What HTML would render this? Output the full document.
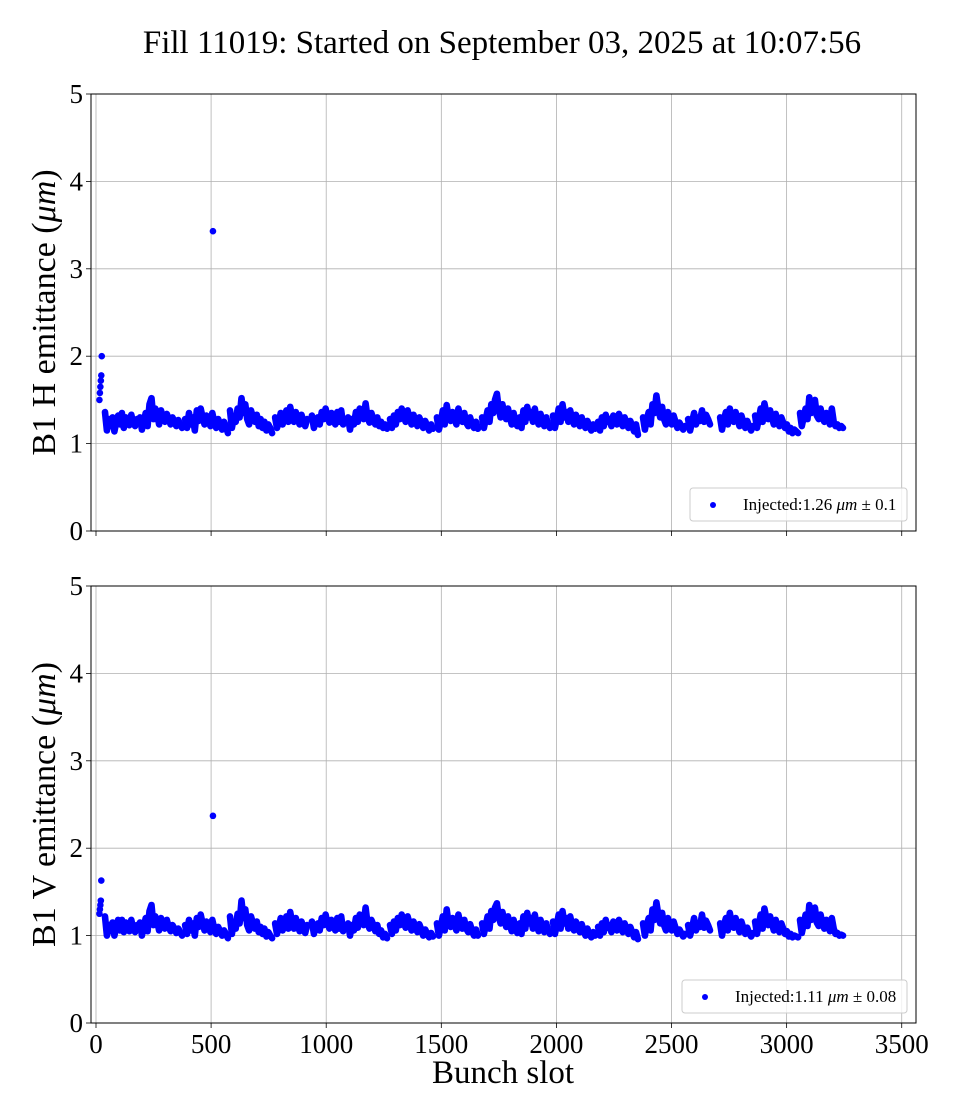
<!DOCTYPE html>
<html><head><meta charset="utf-8"><style>
body{margin:0;background:#fff}
svg{display:block;font-family:"Liberation Serif","DejaVu Serif",serif}
</style></head><body>
<svg id="chart" width="960" height="1120" viewBox="0 0 960 1120" xmlns="http://www.w3.org/2000/svg">
<text x="502" y="53" font-size="33" text-anchor="middle">Fill 11019: Started on September 03, 2025 at 10:07:56</text>
<g id="p1"></g><g id="p2"></g>
<text x="503" y="1083" font-size="33" text-anchor="middle">Bunch slot</text>
</svg>
<script>
const xTicks = [0,500,1000,1500,2000,2500,3000,3500];
const yTicks = [0,1,2,3,4,5];
const trainStart = [39,191,387,582,778,938,1095,1277,1481,1677,1840,1985,2181,2376,2572,2711,2863,3058];
const trainEnd   = [178,374,573,765,917,1082,1264,1464,1659,1830,1972,2168,2354,2559,2667,2854,3050,3245];
const hTrains = [
 [1.36,1.15,1.28,1.20,1.30,1.14,1.25,1.32,1.22,1.35,1.18,1.30,1.26,1.21,1.33,1.24,1.20,1.28],
 [1.30,1.16,1.25,1.35,1.20,1.45,1.52,1.28,1.40,1.33,1.22,1.38,1.30,1.25,1.34,1.28,1.22,1.30,1.25,1.20,1.27,1.22,1.18],
 [1.28,1.18,1.35,1.22,1.30,1.15,1.38,1.26,1.40,1.30,1.22,1.32,1.28,1.20,1.35,1.25,1.18,1.28,1.22,1.16,1.25,1.20,1.12],
 [1.38,1.18,1.30,1.25,1.40,1.30,1.52,1.35,1.45,1.28,1.22,1.38,1.30,1.25,1.33,1.20,1.28,1.18,1.25,1.15,1.22,1.18,1.12],
 [1.30,1.18,1.25,1.35,1.22,1.30,1.38,1.25,1.42,1.32,1.25,1.36,1.28,1.22,1.33,1.26,1.20,1.28],
 [1.32,1.18,1.25,1.30,1.22,1.36,1.28,1.40,1.30,1.24,1.35,1.28,1.22,1.36,1.25,1.38,1.22,1.28],
 [1.30,1.16,1.28,1.22,1.36,1.25,1.40,1.32,1.28,1.46,1.30,1.24,1.35,1.28,1.22,1.30,1.20,1.25,1.18,1.22,1.17],
 [1.28,1.18,1.32,1.22,1.36,1.28,1.40,1.32,1.25,1.38,1.30,1.22,1.33,1.26,1.20,1.30,1.24,1.18,1.26,1.20,1.15,1.22,1.17],
 [1.30,1.16,1.25,1.38,1.22,1.44,1.30,1.26,1.36,1.28,1.22,1.40,1.30,1.25,1.35,1.24,1.20,1.30,1.22,1.18,1.25,1.17],
 [1.30,1.18,1.28,1.38,1.25,1.45,1.35,1.50,1.57,1.40,1.30,1.45,1.35,1.28,1.40,1.30,1.22,1.35,1.25,1.20],
 [1.30,1.18,1.38,1.25,1.42,1.30,1.36,1.25,1.40,1.28,1.22,1.34,1.26,1.20,1.30,1.22,1.18],
 [1.32,1.18,1.28,1.40,1.25,1.45,1.30,1.36,1.25,1.38,1.28,1.22,1.33,1.26,1.20,1.30,1.22,1.18,1.26,1.20,1.15,1.22,1.17],
 [1.25,1.15,1.30,1.20,1.33,1.25,1.28,1.20,1.32,1.26,1.22,1.34,1.28,1.20,1.30,1.24,1.18,1.26,1.20,1.14,1.22,1.10],
 [1.30,1.16,1.28,1.36,1.22,1.45,1.35,1.55,1.40,1.30,1.42,1.28,1.22,1.36,1.28,1.22,1.32,1.25,1.18,1.24,1.20,1.16,1.20],
 [1.28,1.15,1.25,1.35,1.22,1.30,1.26,1.38,1.25,1.33,1.28,1.22],
 [1.30,1.16,1.28,1.36,1.22,1.40,1.30,1.25,1.36,1.28,1.20,1.32,1.25,1.18,1.26,1.20,1.15,1.20],
 [1.32,1.18,1.28,1.40,1.25,1.46,1.35,1.28,1.38,1.30,1.22,1.34,1.26,1.20,1.30,1.24,1.18,1.22,1.14,1.18,1.12,1.16,1.14,1.12],
 [1.35,1.20,1.30,1.40,1.28,1.53,1.35,1.45,1.50,1.32,1.28,1.40,1.30,1.25,1.35,1.28,1.22,1.40,1.25,1.20,1.22,1.18,1.20,1.18]
];
const vTrains = [
 [1.22,1.00,1.12,1.05,1.15,1.00,1.10,1.18,1.06,1.18,1.04,1.15,1.10,1.05,1.18,1.08,1.04,1.12],
 [1.15,1.00,1.10,1.20,1.05,1.28,1.35,1.12,1.22,1.16,1.06,1.20,1.14,1.08,1.18,1.10,1.05,1.12,1.08,1.03,1.08,1.04,1.00],
 [1.12,1.02,1.18,1.06,1.14,1.00,1.20,1.10,1.24,1.14,1.06,1.16,1.12,1.04,1.18,1.08,1.02,1.10,1.05,1.00,1.06,1.02,0.97],
 [1.22,1.02,1.15,1.08,1.25,1.14,1.40,1.20,1.30,1.12,1.06,1.22,1.14,1.08,1.16,1.04,1.10,1.02,1.08,0.99,1.04,1.00,0.97],
 [1.14,1.02,1.10,1.20,1.06,1.14,1.22,1.08,1.27,1.16,1.08,1.20,1.12,1.05,1.16,1.10,1.03,1.12],
 [1.16,1.02,1.10,1.14,1.06,1.20,1.12,1.24,1.14,1.08,1.18,1.12,1.06,1.20,1.08,1.22,1.05,1.12],
 [1.14,1.00,1.12,1.06,1.20,1.09,1.24,1.16,1.12,1.32,1.14,1.08,1.18,1.12,1.05,1.12,1.02,1.06,0.98,1.02,0.97],
 [1.12,1.02,1.16,1.06,1.20,1.12,1.24,1.16,1.09,1.22,1.14,1.06,1.16,1.10,1.04,1.13,1.07,1.00,1.07,1.02,0.98,1.03,0.99],
 [1.14,1.00,1.10,1.22,1.06,1.30,1.14,1.10,1.20,1.12,1.06,1.24,1.14,1.08,1.18,1.08,1.04,1.13,1.05,1.00,1.07,1.00],
 [1.14,1.02,1.12,1.22,1.08,1.28,1.18,1.32,1.37,1.22,1.14,1.27,1.18,1.10,1.22,1.12,1.05,1.18,1.08,1.03],
 [1.14,1.02,1.22,1.08,1.26,1.14,1.20,1.08,1.24,1.12,1.05,1.18,1.10,1.04,1.14,1.06,1.02],
 [1.16,1.02,1.12,1.24,1.08,1.28,1.14,1.20,1.08,1.22,1.12,1.06,1.16,1.10,1.04,1.13,1.06,1.00,1.08,1.02,0.98,1.04,1.00],
 [1.10,1.00,1.14,1.04,1.18,1.09,1.12,1.04,1.16,1.10,1.06,1.18,1.12,1.04,1.14,1.08,1.02,1.10,1.04,0.98,1.04,0.96],
 [1.14,1.00,1.12,1.20,1.06,1.30,1.18,1.38,1.24,1.14,1.26,1.12,1.06,1.20,1.12,1.06,1.16,1.09,1.02,1.07,1.03,0.99,1.02],
 [1.12,1.00,1.09,1.20,1.06,1.14,1.10,1.24,1.09,1.17,1.12,1.06],
 [1.14,1.00,1.12,1.20,1.06,1.26,1.14,1.09,1.20,1.12,1.04,1.16,1.09,1.02,1.09,1.03,0.99,1.03],
 [1.16,1.02,1.12,1.24,1.08,1.31,1.20,1.12,1.22,1.14,1.06,1.18,1.10,1.04,1.14,1.08,1.02,1.05,0.99,1.02,0.98,1.00,0.99,0.98],
 [1.18,1.03,1.13,1.24,1.11,1.35,1.18,1.28,1.32,1.15,1.11,1.24,1.14,1.08,1.18,1.11,1.05,1.20,1.08,1.02,1.03,1.00,1.01,1.00]
];
const hExtraSlots = [15,17,19,21,23,25,508];
const hExtraVals  = [1.50,1.58,1.65,1.72,1.78,2.00,3.43];
const vExtraSlots = [15,17,19,21,23,508];
const vExtraVals  = [1.25,1.30,1.35,1.40,1.63,2.37];

const NS='http://www.w3.org/2000/svg';
const L=91,R=916,XMIN=-21.7,XMAX=3562;
const xs=s=>L+(s-XMIN)/(XMAX-XMIN)*(R-L);
function mk(tag,attrs,parent){const e=document.createElementNS(NS,tag);for(const k in attrs)e.setAttribute(k,attrs[k]);parent.appendChild(e);return e;}

function panel(g,top,bottom,trains,exS,exV,label,legendTxt,legX,pn,showXLabels){
  const ys=v=>bottom-v/5*(bottom-top);
  xTicks.forEach(t=>{const l=mk('line',{x1:xs(t),x2:xs(t),y1:top,y2:bottom,stroke:'#b0b0b0','stroke-width':0.8},g);
    
    
    const tk=mk('line',{x1:xs(t),x2:xs(t),y1:bottom,y2:bottom+5,stroke:'#000','stroke-width':0.8},g);
    
    
    if(showXLabels){const tx=mk('text',{x:xs(t),y:bottom+30,'font-size':27,'text-anchor':'middle'},g);tx.textContent=t;
      
      }
  });
  yTicks.forEach(t=>{const l=mk('line',{x1:L,x2:R,y1:ys(t),y2:ys(t),stroke:'#b0b0b0','stroke-width':0.8},g);
    
    
    const tk=mk('line',{x1:L-5,x2:L,y1:ys(t),y2:ys(t),stroke:'#000','stroke-width':0.8},g);
    
    
    const tx=mk('text',{x:L-8,y:ys(t)+9,'font-size':27,'text-anchor':'end'},g);tx.textContent=t;
    
    
  });
  const pts=mk('g',{fill:'#0000ff'},g);
  
  
  trains.forEach((vals,i)=>{const n=vals.length;
    const p=vals.map((v,j)=>(xs(trainStart[i]+(trainEnd[i]-trainStart[i])*j/(n-1))).toFixed(1)+','+ys(v).toFixed(1)).join(' ');
    const pl=mk('polyline',{points:p,fill:'none',stroke:'#0000ff','stroke-width':6.6,'stroke-linejoin':'round','stroke-linecap':'round'},pts);
    
    
  });
  exS.forEach((s,i)=>{const c=mk('circle',{cx:xs(s),cy:ys(exV[i]),r:3.3},pts);
    
    });
  const fr=mk('rect',{x:L,y:top,width:R-L,height:bottom-top,fill:'none',stroke:'#000','stroke-width':1},g);
  
  
  const yl=mk('text',{x:0,y:0,'font-size':34,'text-anchor':'middle',transform:`translate(55,${(top+bottom)/2}) rotate(-90)`},g);
  yl.innerHTML=label+' emittance (<tspan font-style="italic">μm</tspan>)';
  
  
  const lg=mk('g',{},g);
  
  
  mk('rect',{x:legX,y:bottom-43,width:907-legX,height:33,rx:3,fill:'#fff','fill-opacity':0.8,stroke:'#ccc'},lg);
  mk('circle',{cx:legX+23,cy:bottom-26,r:3,fill:'#0000ff'},lg);
  const lt=mk('text',{x:legX+53,y:bottom-21,'font-size':17},lg);
  lt.innerHTML=legendTxt;
  
  
}
panel(document.getElementById('p1'),94,531,hTrains,hExtraSlots,hExtraVals,'B1 H','Injected:1.26 <tspan font-style="italic">μm</tspan> ± 0.1',690,'h',false);
panel(document.getElementById('p2'),586,1023,vTrains,vExtraSlots,vExtraVals,'B1 V','Injected:1.11 <tspan font-style="italic">μm</tspan> ± 0.08',682,'v',true);
</script>
</body></html>
